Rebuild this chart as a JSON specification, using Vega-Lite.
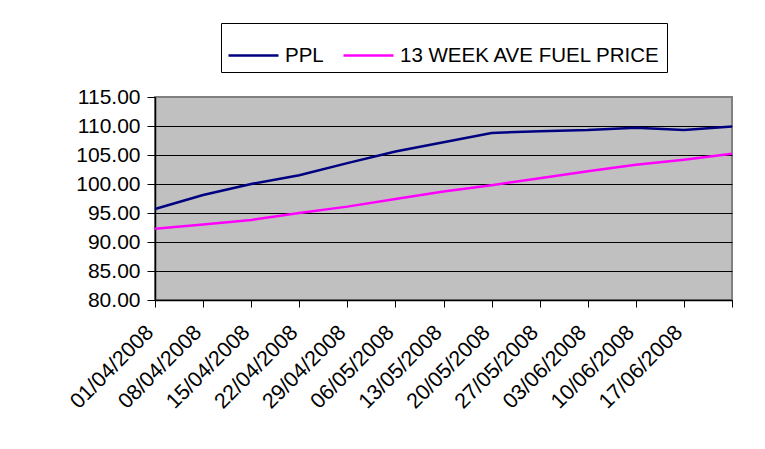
{
  "$schema": "https://vega.github.io/schema/vega-lite/v6.json",
  "autosize": "none",
  "width": 577,
  "height": 203,
  "padding": {"left": 155, "top": 97, "right": 33, "bottom": 149},
  "background": "white",
  "config": {
    "font": "Liberation Sans",
    "view": {"fill": "#C0C0C0", "stroke": "#808080", "strokeWidth": 2}
  },
  "data": {
    "values": [
      {"date": "01/04/2008", "series": "PPL", "value": 95.7},
      {"date": "08/04/2008", "series": "PPL", "value": 98.1},
      {"date": "15/04/2008", "series": "PPL", "value": 100.0},
      {"date": "22/04/2008", "series": "PPL", "value": 101.5},
      {"date": "29/04/2008", "series": "PPL", "value": 103.6},
      {"date": "06/05/2008", "series": "PPL", "value": 105.6},
      {"date": "13/05/2008", "series": "PPL", "value": 107.2},
      {"date": "20/05/2008", "series": "PPL", "value": 108.8},
      {"date": "27/05/2008", "series": "PPL", "value": 109.1},
      {"date": "03/06/2008", "series": "PPL", "value": 109.3},
      {"date": "10/06/2008", "series": "PPL", "value": 109.7},
      {"date": "17/06/2008", "series": "PPL", "value": 109.3},
      {"date": "24/06/2008", "series": "PPL", "value": 109.9},
      {"date": "01/04/2008", "series": "13 WEEK AVE FUEL PRICE", "value": 92.3},
      {"date": "08/04/2008", "series": "13 WEEK AVE FUEL PRICE", "value": 93.0},
      {"date": "15/04/2008", "series": "13 WEEK AVE FUEL PRICE", "value": 93.8},
      {"date": "22/04/2008", "series": "13 WEEK AVE FUEL PRICE", "value": 95.0},
      {"date": "29/04/2008", "series": "13 WEEK AVE FUEL PRICE", "value": 96.1},
      {"date": "06/05/2008", "series": "13 WEEK AVE FUEL PRICE", "value": 97.4},
      {"date": "13/05/2008", "series": "13 WEEK AVE FUEL PRICE", "value": 98.7},
      {"date": "20/05/2008", "series": "13 WEEK AVE FUEL PRICE", "value": 99.8},
      {"date": "27/05/2008", "series": "13 WEEK AVE FUEL PRICE", "value": 101.0},
      {"date": "03/06/2008", "series": "13 WEEK AVE FUEL PRICE", "value": 102.2},
      {"date": "10/06/2008", "series": "13 WEEK AVE FUEL PRICE", "value": 103.3},
      {"date": "17/06/2008", "series": "13 WEEK AVE FUEL PRICE", "value": 104.2},
      {"date": "24/06/2008", "series": "13 WEEK AVE FUEL PRICE", "value": 105.2}
    ]
  },
  "mark": {"type": "line", "strokeWidth": 2.5},
  "encoding": {
    "x": {
      "field": "date",
      "type": "ordinal",
      "sort": null,
      "scale": {"type": "point", "padding": 0},
      "axis": {
        "title": null,
        "labelAngle": -45,
        "labelAlign": "right",
        "labelBaseline": "middle",
        "labelFontSize": 21.5,
        "labelColor": "black",
        "labelPadding": 22,
        "labelOffset": -5,
        "labelExpr": "datum.value == '24/06/2008' ? '' : datum.label",
        "domainColor": "black",
        "domainWidth": 1.5,
        "tickColor": "black",
        "tickSize": 7,
        "labelOverlap": false,
        "grid": false
      }
    },
    "y": {
      "field": "value",
      "type": "quantitative",
      "scale": {"domain": [80, 115], "nice": false, "zero": false},
      "axis": {
        "title": null,
        "values": [80, 85, 90, 95, 100, 105, 110, 115],
        "format": ".2f",
        "labelFontSize": 21,
        "labelColor": "black",
        "labelPadding": 7,
        "domainColor": "black",
        "domainWidth": 1.5,
        "tickColor": "black",
        "tickSize": 8,
        "grid": true,
        "gridColor": {"condition": {"test": "datum.value == 115", "value": "#808080"}, "value": "black"},
        "gridOpacity": 1,
        "gridWidth": 1
      }
    },
    "color": {
      "field": "series",
      "type": "nominal",
      "scale": {"domain": ["PPL", "13 WEEK AVE FUEL PRICE"], "range": ["#000080", "#FF00FF"]},
      "legend": {
        "title": null,
        "orient": "none",
        "direction": "horizontal",
        "legendX": 66,
        "legendY": -74,
        "strokeColor": "black",
        "padding": 6,
        "symbolType": "stroke",
        "symbolSize": 2500,
        "symbolStrokeWidth": 2.5,
        "labelFontSize": 20.5,
        "labelColor": "black",
        "labelOffset": 5,
        "columnPadding": 14,
        "labelLimit": 400
      }
    }
  }
}
